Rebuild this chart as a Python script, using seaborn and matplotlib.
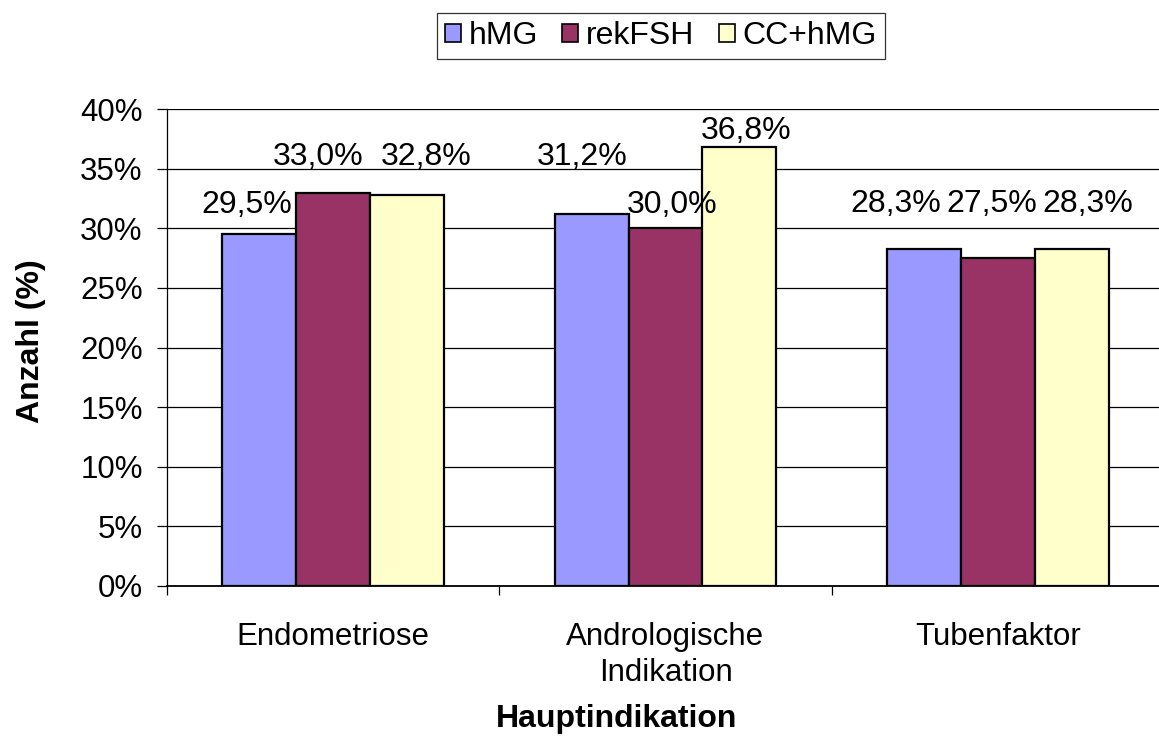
import matplotlib
matplotlib.use("Agg")
import matplotlib.pyplot as plt
from matplotlib.patches import Patch
from matplotlib.ticker import FixedLocator, FuncFormatter
import pandas as pd
import seaborn as sns

# Data (percent)
categories = ["Endometriose", "Andrologische\nIndikation", "Tubenfaktor"]
series = ["hMG", "rekFSH", "CC+hMG"]
hmg = [29.5, 31.2, 28.3]
rekfsh = [33.0, 30.0, 27.5]
cc_hmg = [32.8, 36.8, 28.3]
y_ticks = [0, 5, 10, 15, 20, 25, 30, 35, 40]

colors = ["#9999FF", "#993366", "#FFFFCC"]

# Label offsets (pixels) relative to the top centre of each bar, per series
label_offsets = [
    [(-13, 29), (-9, 57), (-28, 45)],
    [(-15, 36), (7, 23), (-6, 54)],
    [(19, 38), (7, 16), (16, 45)],
]

rows = []
for name, vals in zip(series, [hmg, rekfsh, cc_hmg]):
    for cat, v in zip(categories, vals):
        rows.append({"Hauptindikation": cat, "Anzahl": v, "Präparat": name})
df = pd.DataFrame(rows)

sns.set_style("white")
plt.rcParams["font.family"] = ["Liberation Sans", "DejaVu Sans"]
plt.rcParams.update({
    "text.color": "black",
    "axes.labelcolor": "black",
    "xtick.color": "black",
    "ytick.color": "black",
})

fig = plt.figure(figsize=(11.59, 7.40), dpi=100)
ax = fig.add_axes([167 / 1159, 1 - 585.7 / 740, 997 / 1159, 476.4 / 740])

sns.barplot(
    data=df, x="Hauptindikation", y="Anzahl", hue="Präparat",
    order=categories, hue_order=series, palette=colors,
    width=2 / 3, gap=0, saturation=1, edgecolor="black", linewidth=1.6,
    errorbar=None, ax=ax,
)

ax.set_xlim(-0.5, 2.5)
ax.set_ylim(0, 40)
ax.set_axisbelow(True)

# y axis: percent ticks with grid
ax.yaxis.set_major_locator(FixedLocator(y_ticks))
ax.yaxis.set_major_formatter(FuncFormatter(lambda v, p: f"{int(v)}%"))
ax.yaxis.grid(True, color="black", linewidth=0.9)
ax.tick_params(axis="y", which="major", direction="out", length=7.5, width=0.9,
               pad=10, labelsize=22.5, color="black", labelcolor="black", left=True)

# x axis: labels centred, tick marks at category boundaries
ax.xaxis.set_minor_locator(FixedLocator([-0.5, 0.5, 1.5, 2.5]))
ax.tick_params(axis="x", which="major", length=0, pad=26, labelsize=22.5,
               labelcolor="black")
ax.tick_params(axis="x", which="minor", direction="out", length=6.8, width=0.9,
               color="black", bottom=True)
for lbl in ax.get_xticklabels():
    lbl.set_linespacing(1.25)

for side in ["top", "right"]:
    ax.spines[side].set_visible(False)
ax.spines["left"].set_color("black")
ax.spines["left"].set_linewidth(0.9)
ax.spines["bottom"].set_color("black")
ax.spines["bottom"].set_linewidth(1.3)

ax.set_xlabel("Hauptindikation", fontsize=23, fontweight="bold", va="top",
              color="black")
ax.xaxis.set_label_coords(0.451, -0.248)
ax.set_ylabel("Anzahl (%)", fontsize=23, fontweight="bold", color="black")
ax.yaxis.set_label_coords(-0.121, 0.514)

# Value labels
for si, cont in enumerate(ax.containers):
    for ci, bar in enumerate(cont):
        v = bar.get_height()
        dx, dy = label_offsets[si][ci]
        ax.annotate(
            f"{v:.1f}%".replace(".", ","),
            xy=(bar.get_x() + bar.get_width() / 2, v),
            xytext=(dx, dy), textcoords="offset pixels",
            ha="center", va="center", fontsize=23, color="black",
        )

# Legend at the top
if ax.get_legend() is not None:
    ax.get_legend().remove()
handles = [Patch(facecolor=c, edgecolor="black", linewidth=1.2) for c in colors]
leg = fig.legend(
    handles, series, loc="center", bbox_to_anchor=(661 / 1159, 1 - 36 / 740),
    ncol=3, frameon=True, fancybox=False, edgecolor="black", fontsize=23,
    handlelength=0.5, handleheight=0.5, handletextpad=0.25, columnspacing=0.75,
    borderpad=0.25, borderaxespad=0,
)
leg.get_frame().set_linewidth(0.9)
for t in leg.get_texts():
    t.set_color("black")

fig.savefig("out.png", dpi=100)
